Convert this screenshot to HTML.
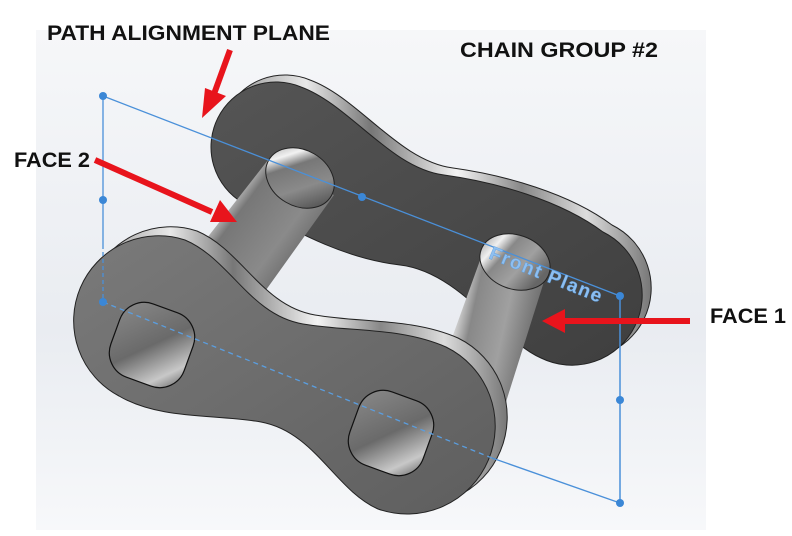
<!DOCTYPE html>
<html><head><meta charset="utf-8"><style>
html,body{margin:0;padding:0;background:#fff;}
svg{display:block;}
text{font-family:"Liberation Sans",Arial,sans-serif;font-weight:bold;}
</style></head><body>
<svg width="792" height="536" viewBox="0 0 792 536" xmlns="http://www.w3.org/2000/svg">
<defs>
<linearGradient id="bg" x1="0" y1="0" x2="0" y2="1">
<stop offset="0" stop-color="#f6f7f9"/><stop offset="0.6" stop-color="#e9ecf1"/><stop offset="1" stop-color="#f7f8fa"/></linearGradient>
<linearGradient id="rim" x1="0" y1="0" x2="1" y2="0">
<stop offset="0" stop-color="#8a8a8a"/><stop offset="0.2" stop-color="#e8e8e8"/><stop offset="0.35" stop-color="#777"/><stop offset="0.55" stop-color="#f4f4f4"/><stop offset="0.7" stop-color="#888"/><stop offset="0.85" stop-color="#dcdcdc"/><stop offset="1" stop-color="#777"/></linearGradient>
<linearGradient id="front" x1="0" y1="0" x2="1" y2="1">
<stop offset="0" stop-color="#7a7a7a"/><stop offset="0.5" stop-color="#6c6c6c"/><stop offset="1" stop-color="#5e5e5e"/></linearGradient>
<linearGradient id="back" x1="0" y1="0" x2="1" y2="1">
<stop offset="0" stop-color="#555"/><stop offset="1" stop-color="#3f3f3f"/></linearGradient>
<linearGradient id="pinL" x1="0" y1="0" x2="1" y2="0.7">
<stop offset="0" stop-color="#9a9a9a"/><stop offset="0.25" stop-color="#f2f2f2"/><stop offset="0.4" stop-color="#777"/><stop offset="0.7" stop-color="#8a8a8a"/><stop offset="1" stop-color="#555"/></linearGradient>
<linearGradient id="pinR" x1="0" y1="0" x2="1" y2="0.3">
<stop offset="0" stop-color="#999"/><stop offset="0.25" stop-color="#f0f0f0"/><stop offset="0.42" stop-color="#888"/><stop offset="0.7" stop-color="#a0a0a0"/><stop offset="1" stop-color="#666"/></linearGradient>
<linearGradient id="rivet" x1="0" y1="0" x2="1" y2="1">
<stop offset="0" stop-color="#8a8a8a"/><stop offset="0.5" stop-color="#6a6a6a"/><stop offset="0.8" stop-color="#c8c8c8"/><stop offset="1" stop-color="#555"/></linearGradient>
</defs>
<rect x="36" y="30" width="670" height="500" fill="url(#bg)"/>

<path transform="translate(9,-7)" d="M301,87 C350,105 390,168 444,175 C495,182 560,200 603,232 A70,70 0 0 1 541,358 C500,340 460,272 400,265 C340,258 290,228 243,203 A65,65 0 0 1 301,87 Z" fill="url(#rim)" stroke="#222" stroke-width="1"/>
<path d="M301,87 C350,105 390,168 444,175 C495,182 560,200 603,232 A70,70 0 0 1 541,358 C500,340 460,272 400,265 C340,258 290,228 243,203 A65,65 0 0 1 301,87 Z" fill="url(#back)" stroke="#222" stroke-width="1"/>

<path d="M268,160 L334,195 L266,290 L196,252 Z" fill="url(#pinL)"/>
<ellipse cx="300" cy="178" rx="36" ry="28" transform="rotate(30 300 178)" fill="url(#pinL)" stroke="#222" stroke-width="1"/>
<path d="M483,252 L547,272 L505,405 L435,385 Z" fill="url(#pinR)"/>
<ellipse cx="515" cy="262" rx="36" ry="27" transform="rotate(20 515 262)" fill="url(#pinR)" stroke="#222" stroke-width="1"/>

<line x1="103" y1="96" x2="620" y2="296" stroke="#4a90d9" stroke-width="1.3"/>
<text x="488" y="258" transform="rotate(22 488 258)" font-size="19" fill="#8fbff0" stroke="#5a9ee0" stroke-width="0.4" letter-spacing="1.5">Front Plane</text>

<path transform="translate(12,-9)" d="M185,240 C230,259 250,315 303,324 C350,332 400,327 446,347 A88,88 0 0 1 378,509 C335,490 315,432 261,422 C215,414 160,420 119,396 A85,85 0 0 1 185,240 Z" fill="url(#rim)" stroke="#222" stroke-width="1"/>
<path d="M185,240 C230,259 250,315 303,324 C350,332 400,327 446,347 A88,88 0 0 1 378,509 C335,490 315,432 261,422 C215,414 160,420 119,396 A85,85 0 0 1 185,240 Z" fill="url(#front)" stroke="#222" stroke-width="1"/>
<rect x="113" y="306" width="78" height="78" rx="26" transform="rotate(20 152 345)" fill="url(#rivet)" stroke="#111" stroke-width="1.2"/>
<rect x="352" y="394" width="78" height="78" rx="26" transform="rotate(20 391 433)" fill="url(#rivet)" stroke="#111" stroke-width="1.2"/>

<line x1="103" y1="96" x2="103" y2="245" stroke="#4a90d9" stroke-width="1.3"/>
<line x1="103" y1="245" x2="103" y2="302" stroke="#4a90d9" stroke-width="1.3" stroke-dasharray="4,3"/>
<line x1="103" y1="302" x2="492" y2="458" stroke="#5a9ee0" stroke-width="1.3" stroke-dasharray="5,4"/>
<line x1="492" y1="458" x2="620" y2="503" stroke="#4a90d9" stroke-width="1.3"/>
<line x1="620" y1="296" x2="620" y2="503" stroke="#4a90d9" stroke-width="1.5"/>
<g fill="#3b87d6">
<circle cx="103" cy="96" r="4"/><circle cx="103" cy="200" r="4"/><circle cx="103" cy="302" r="4"/>
<circle cx="362" cy="197" r="4"/><circle cx="620" cy="296" r="4"/><circle cx="620" cy="400" r="4"/><circle cx="620" cy="503" r="4"/>
</g>

<g fill="#e8141c" stroke="#e8141c">
<line x1="230" y1="50" x2="214" y2="94" stroke-width="6"/>
<polygon points="202,118 205,88 226,96" stroke="none"/>
<line x1="95" y1="160" x2="212" y2="212" stroke-width="6"/>
<polygon points="237,222 210,222 220,200" stroke="none"/>
<line x1="690" y1="321" x2="565" y2="321" stroke-width="6"/>
<polygon points="542,321 565,309 565,333" stroke="none"/>
</g>

<text x="47" y="40" font-size="21" fill="#111" textLength="283" lengthAdjust="spacingAndGlyphs">PATH ALIGNMENT PLANE</text>
<text x="460" y="57" font-size="21" fill="#111" textLength="198" lengthAdjust="spacingAndGlyphs">CHAIN GROUP #2</text>
<text x="14" y="167" font-size="21" fill="#111" textLength="76" lengthAdjust="spacingAndGlyphs">FACE 2</text>
<text x="710" y="323" font-size="21" fill="#111" textLength="76" lengthAdjust="spacingAndGlyphs">FACE 1</text>
</svg>
</body></html>
